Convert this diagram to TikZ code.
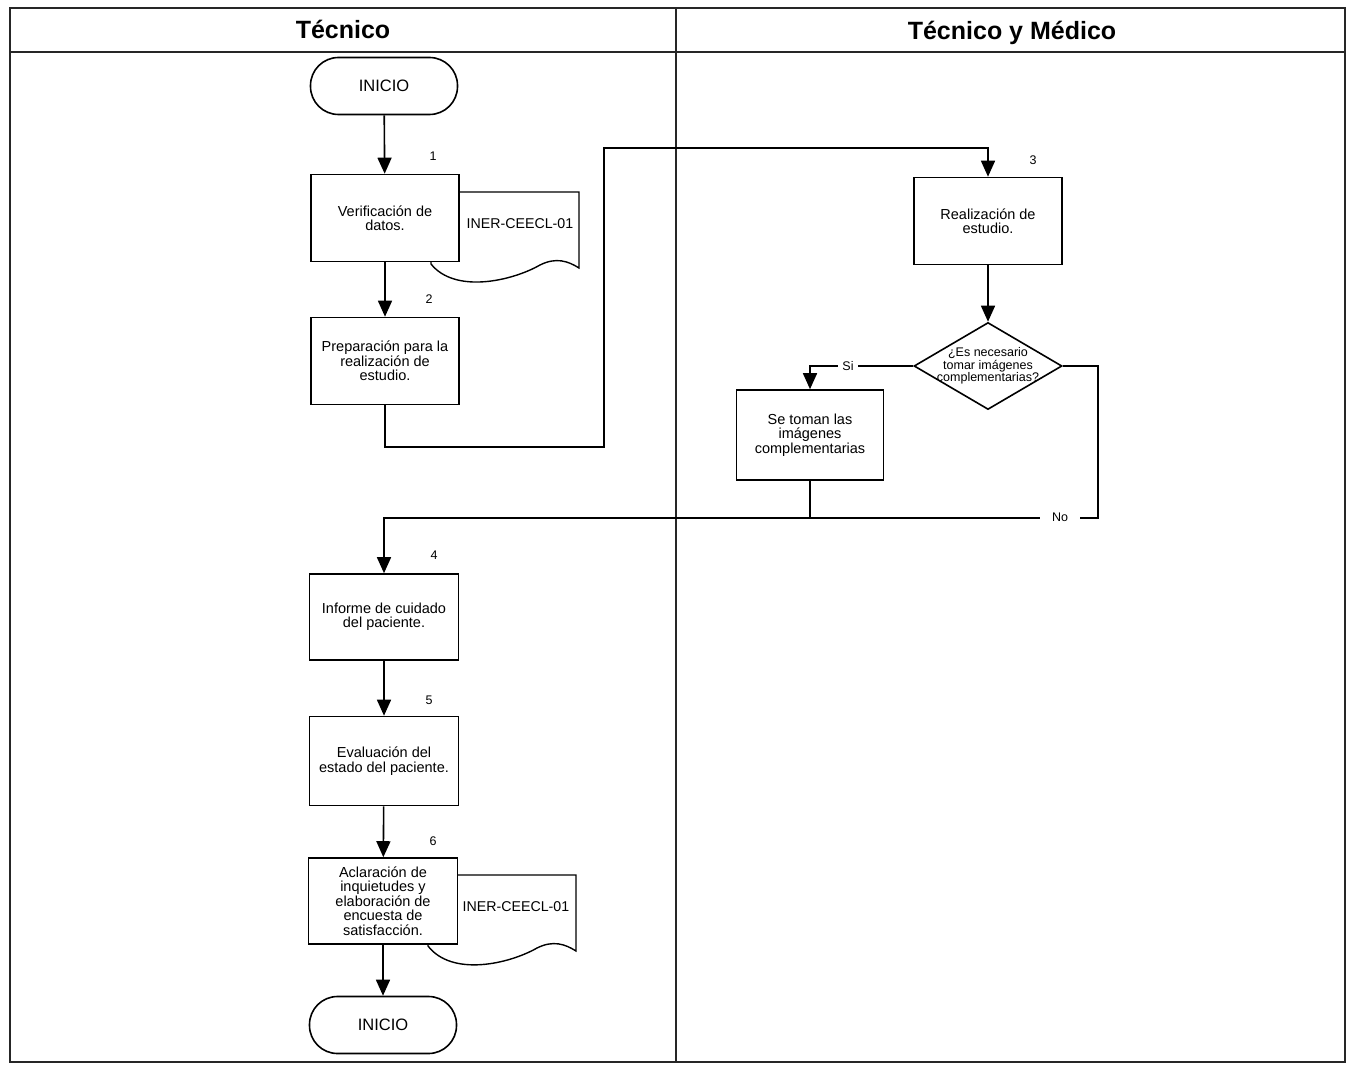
\documentclass[tikz,border=0pt]{standalone}
\usepackage{fontspec}
\setmainfont{Liberation Sans}
\usetikzlibrary{arrows.meta,shapes.geometric}
\begin{document}
\begin{tikzpicture}[x=1pt,y=-1pt,
  every node/.style={inner sep=0pt},
  frame/.style={line width=1.2pt, draw=black!85},
  procbox/.style={draw, line width=1.6pt, fill=white, minimum width=148pt, minimum height=87pt, align=center, font=\fontsize{14.5}{14.4}\selectfont},
  termbox/.style={draw, line width=1.6pt, fill=white, rounded corners=28pt, minimum width=147pt, minimum height=57pt, font=\fontsize{16.5}{17}\selectfont},
  decbox/.style={draw, diamond, line width=1.6pt, fill=white, minimum width=148pt, minimum height=87pt},
  doctext/.style={font=\fontsize{14.2}{15}\selectfont},
  docshape/.style={draw, line width=1.4pt, fill=white},
  num/.style={font=\fontsize{12.5}{13}\selectfont},
  lbl/.style={font=\fontsize{12.5}{13}\selectfont, fill=white, inner xsep=4pt, inner ysep=2pt},
  title/.style={font=\fontsize{25}{28}\selectfont\bfseries, anchor=base},
  conn/.style={line width=1.6pt},
  arr/.style={conn, -{Triangle[length=16pt,width=14pt]}}
]
\useasboundingbox (0,0) rectangle (1348,1067);
% pool frame
\draw[frame] (10,8) rectangle (1345,1062);
\draw[frame] (10,52) -- (1345,52);
\draw[frame] (676,8) -- (676,1062);
\node[title] (t1) at (343,39) {Técnico};
\node[title] (t2) at (1012,40) {Técnico y Médico};

% documents (drawn first, behind boxes)
\draw[docshape] (431,264) -- (431,192) -- (579,192) -- (579,268)
  .. controls (568,261) and (556,257) .. (540,265)
  .. controls (512,281) and (455,294) .. (431,264) -- cycle;
\node[doctext] (d1) at (520,224) {INER-CEECL-01};
\draw[docshape] (428,946) -- (428,875) -- (576,875) -- (576,951)
  .. controls (565,944) and (553,940) .. (537,948)
  .. controls (509,964) and (452,977) .. (428,946) -- cycle;
\node[doctext] (d2) at (516,907) {INER-CEECL-01};

% nodes
\node[termbox] (start) at (384,86) {INICIO};
\node[procbox] (b1) at (385,218) {Verificación de\\datos.};
\node[procbox] (b2) at (385,361) {Preparación para la\\realización de\\estudio.};
\node[procbox] (b3) at (988,221) {Realización de\\estudio.};
\node[decbox] (dq) at (988,366) {};
\node[align=center, font=\fontsize{12.5}{12.4}\selectfont] (dqt) at (988,366) {¿Es necesario\\tomar imágenes\\complementarias?};
\node[procbox, minimum width=147pt, minimum height=90pt] (bs) at (810,435) {Se toman las\\imágenes\\complementarias};
\node[procbox, minimum width=149pt, minimum height=86pt] (b4) at (384,617) {Informe de cuidado\\del paciente.};
\node[procbox, minimum width=149pt, minimum height=89pt] (b5) at (384,761) {Evaluación del\\estado del paciente.};
\node[procbox, minimum width=149pt, minimum height=86pt] (b6) at (383,901) {Aclaración de\\inquietudes y\\elaboración de\\encuesta de\\satisfacción.};
\node[termbox] (end) at (383,1025) {INICIO};

% step numbers
\node[num] (n1) at (433,156) {1};
\node[num] (n2) at (429,299) {2};
\node[num] (n3) at (1033,160) {3};
\node[num] (n4) at (434,555) {4};
\node[num] (n5) at (429,700) {5};
\node[num] (n6) at (433,841) {6};

% junction coordinates
\coordinate (c1) at (385,447);
\coordinate (c2) at (604,447);
\coordinate (c3) at (604,148);
\coordinate (c4) at (988,148);
\coordinate (si1) at (810,366);
\coordinate (no1) at (1098,366);
\coordinate (no2) at (1098,518);
\coordinate (m1) at (810,518);
\coordinate (m2) at (384,518);

% connectors
\draw[arr] (start) -- (b1);
\draw[arr] (b1) -- (b2);
\draw[arr] (b2.south) -- (c1) -- (c2) -- (c3) -- (c4) -- (b3.north);
\draw[arr] (b3) -- (dq);
\draw[arr] (dq.west) -- (si1) -- (bs.north);
\draw[conn] (bs.south) -- (m1);
\draw[arr] (dq.east) -- (no1) -- (no2) -- (m2) -- (b4.north);
\draw[arr] (b4) -- (b5);
\draw[arr] (b5) -- (b6);
\draw[arr] (b6) -- (end);

% branch labels
\node[lbl] (lsi) at (848,366) {Si};
\node[lbl, inner xsep=12pt] (lno) at (1060,517) {No};
\end{tikzpicture}
\end{document}
